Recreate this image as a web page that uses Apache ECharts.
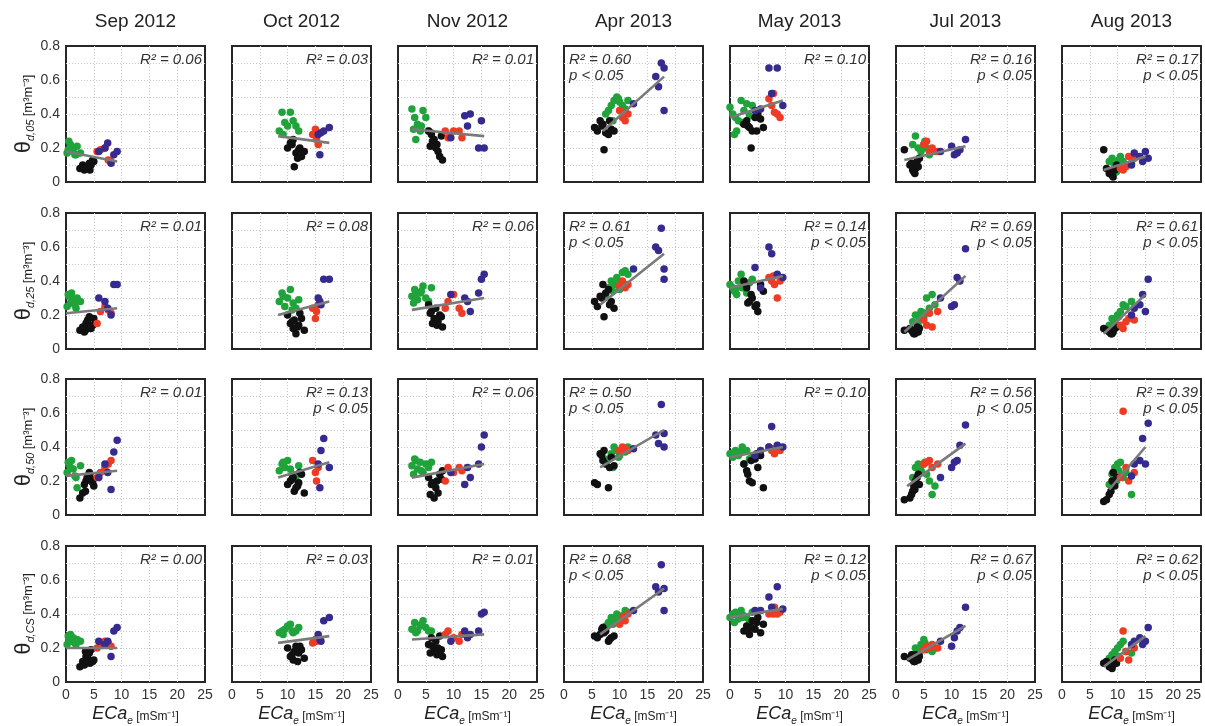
<!DOCTYPE html>
<html><head><meta charset="utf-8">
<script src="https://cdn.jsdelivr.net/npm/echarts@6/dist/echarts.min.js"></script>
<style>html,body{margin:0;padding:0;background:#fff}#c{width:1205px;height:726px}</style>
</head><body><div id="c"></div>
<script>
// ---------- DATA ----------
const months = ['Sep 2012','Oct 2012','Nov 2012','Apr 2013','May 2013','Jul 2013','Aug 2013'];
const depths = ['05','25','50','CS'];
const xTicks = [0,5,10,15,20,25];
const yTicks = [0,0.2,0.4,0.6,0.8];
const groupColors = ['#1fa33a','#111111','#ee3b24','#352a8e']; // green, black, red, blue

// ECa_e per month: [green, black, red, blue]
const sepX = [[0.2,0.5,0.8,1.0,1.3,1.6,2.0,2.6,0.4,1.8],[2.5,3.0,3.3,3.6,3.9,4.2,4.5,4.8,5.0,3.8,4.3,3.5],[5.6,6.2,7.0,7.6,8.1],[5.9,7.0,7.5,8.1,8.6,9.2]];
const octX = [[8.5,9.0,9.5,10.0,10.5,11.0,11.5,12.0,9.2,10.8],[10.0,10.5,11.0,11.2,11.5,12.0,12.5,13.0,10.8,11.8,12.2],[14.5,15.0,15.2,15.5],[15.5,16.0,16.5,17.5,15.8]];
const novX = [[2.5,3.0,3.5,4.0,4.5,5.0,5.5,3.2,4.2,2.8,6.0],[5.5,6.0,6.5,7.0,7.2,7.5,8.0,6.8,6.2,7.8,5.8],[8.5,9.0,10.0,11.0,11.5],[9.5,12.0,13.0,15.0,15.5,12.5,14.5]];
const aprX = [[7.5,8.0,8.5,9.0,9.5,10.0,10.5,11.0,8.8,9.8,11.5],[5.5,6.0,6.5,7.0,7.5,8.0,8.5,7.2,8.2,6.8,9.0],[10.0,10.5,11.0,11.5],[12.5,16.5,17.0,17.5,18.0,18.0]];
const mayX = [[0.0,0.5,1.0,1.5,2.0,2.5,3.0,3.5,1.2,0.8,2.2,4.0],[2.5,3.0,3.5,4.0,4.5,5.0,5.5,6.0,3.8,4.8,3.2],[7.0,7.5,8.0,8.5,9.0,7.8],[4.5,5.5,7.0,7.5,8.5,9.5]];
const julX = [[3.0,3.5,4.0,4.5,5.0,5.5,6.0,6.5,4.2,5.2,7.0],[1.5,2.5,3.0,3.2,3.5,3.8,4.0,4.2,3.4,2.8],[5.0,5.5,6.0,6.5,7.5],[8.0,10.0,10.5,11.0,11.5,12.5]];
const augX = [[8.5,9.0,9.5,10.0,10.5,11.0,11.5,9.8,10.2,12.5],[7.5,8.0,8.5,9.0,9.2,9.5,9.8,8.8],[10.5,11.0,11.5,12.0,13.0],[12.5,13.0,14.0,14.5,15.0,15.5]];

// theta per month and depth: [green, black, red, blue]
const sepY05 = [[0.17,0.24,0.22,0.20,0.18,0.16,0.21,0.17,0.19,0.16],[0.08,0.10,0.07,0.09,0.08,0.11,0.10,0.13,0.12,0.09,0.07,0.08],[0.18,0.19,0.20,0.13,0.12],[0.18,0.20,0.23,0.11,0.16,0.18]];
const sepY25 = [[0.25,0.31,0.27,0.33,0.29,0.26,0.30,0.28,0.32,0.24],[0.11,0.13,0.10,0.15,0.17,0.19,0.12,0.14,0.18,0.16,0.13,0.11],[0.15,0.22,0.25,0.23,0.21],[0.30,0.28,0.24,0.20,0.38,0.38]];
const sepY50 = [[0.25,0.30,0.28,0.32,0.27,0.23,0.16,0.29,0.31,0.22],[0.10,0.13,0.18,0.20,0.23,0.25,0.21,0.19,0.17,0.22,0.24,0.14],[0.22,0.25,0.28,0.30,0.32],[0.22,0.30,0.25,0.15,0.37,0.44]];
const sepYCS = [[0.22,0.25,0.28,0.24,0.26,0.23,0.25,0.24,0.27,0.22],[0.09,0.12,0.10,0.15,0.14,0.17,0.19,0.12,0.13,0.16,0.11,0.18],[0.20,0.22,0.24,0.23,0.21],[0.24,0.22,0.24,0.15,0.30,0.32]];

const octY05 = [[0.30,0.41,0.35,0.33,0.41,0.36,0.33,0.30,0.28,0.24],[0.20,0.23,0.25,0.09,0.17,0.19,0.15,0.18,0.22,0.14,0.20],[0.28,0.31,0.25,0.22],[0.28,0.29,0.30,0.32,0.16]];
const octY25 = [[0.28,0.33,0.25,0.30,0.35,0.27,0.24,0.29,0.31,0.23],[0.20,0.15,0.12,0.17,0.09,0.14,0.18,0.11,0.16,0.13,0.21],[0.24,0.18,0.22,0.26],[0.30,0.26,0.41,0.41,0.28]];
const octY50 = [[0.26,0.30,0.28,0.32,0.27,0.23,0.21,0.29,0.31,0.24],[0.18,0.20,0.22,0.14,0.16,0.19,0.24,0.13,0.21,0.17,0.25],[0.32,0.25,0.20,0.28],[0.30,0.38,0.45,0.28,0.16]];
const octYCS = [[0.29,0.30,0.31,0.33,0.34,0.29,0.30,0.32,0.28,0.30],[0.20,0.15,0.13,0.18,0.21,0.17,0.19,0.14,0.16,0.12,0.21],[0.23,0.25,0.24,0.26],[0.28,0.24,0.36,0.38,0.25]];

const novY05 = [[0.43,0.38,0.34,0.30,0.42,0.38,0.30,0.25,0.33,0.31,0.29],[0.30,0.28,0.25,0.22,0.18,0.15,0.13,0.20,0.24,0.27,0.21],[0.30,0.26,0.30,0.30,0.26],[0.26,0.39,0.40,0.36,0.20,0.33,0.20]];
const novY25 = [[0.31,0.35,0.29,0.33,0.37,0.30,0.28,0.32,0.34,0.27,0.36],[0.26,0.22,0.18,0.14,0.16,0.20,0.13,0.24,0.15,0.19,0.21],[0.24,0.28,0.32,0.24,0.21],[0.32,0.30,0.22,0.41,0.44,0.28,0.33]];
const novY50 = [[0.29,0.33,0.27,0.31,0.25,0.30,0.28,0.32,0.26,0.24,0.31],[0.22,0.18,0.10,0.20,0.13,0.24,0.26,0.16,0.19,0.21,0.12],[0.20,0.28,0.25,0.28,0.26],[0.25,0.18,0.22,0.40,0.47,0.28,0.30]];
const novYCS = [[0.31,0.35,0.30,0.33,0.36,0.32,0.30,0.29,0.34,0.31,0.30],[0.22,0.26,0.18,0.16,0.20,0.27,0.15,0.24,0.21,0.19,0.17],[0.28,0.30,0.26,0.24,0.28],[0.24,0.30,0.28,0.40,0.41,0.26,0.30]];

const aprY05 = [[0.40,0.42,0.45,0.48,0.50,0.47,0.45,0.43,0.36,0.49,0.48],[0.32,0.30,0.36,0.34,0.29,0.28,0.31,0.19,0.36,0.33,0.30],[0.42,0.38,0.36,0.40],[0.46,0.62,0.56,0.70,0.67,0.42]];
const aprY25 = [[0.32,0.36,0.40,0.38,0.42,0.35,0.45,0.46,0.34,0.38,0.44],[0.28,0.25,0.31,0.38,0.33,0.35,0.28,0.19,0.26,0.30,0.24],[0.37,0.40,0.36,0.38],[0.47,0.60,0.58,0.71,0.47,0.41]];
const aprY50 = [[0.30,0.33,0.36,0.40,0.38,0.35,0.39,0.37,0.28,0.34,0.40],[0.19,0.18,0.36,0.32,0.30,0.16,0.34,0.38,0.28,0.35,0.29],[0.38,0.40,0.39,0.38],[0.39,0.47,0.42,0.65,0.48,0.40]];
const aprYCS = [[0.33,0.35,0.38,0.36,0.40,0.37,0.39,0.42,0.34,0.38,0.41],[0.27,0.26,0.28,0.32,0.30,0.24,0.26,0.29,0.25,0.31,0.27],[0.34,0.38,0.36,0.40],[0.42,0.56,0.53,0.69,0.55,0.42]];

const mayY05 = [[0.44,0.40,0.38,0.36,0.48,0.42,0.46,0.39,0.30,0.28,0.35,0.45],[0.34,0.36,0.32,0.30,0.38,0.40,0.37,0.32,0.20,0.30,0.33],[0.49,0.45,0.41,0.40,0.38,0.52],[0.42,0.43,0.67,0.52,0.67,0.45]];
const mayY25 = [[0.38,0.36,0.35,0.40,0.44,0.37,0.33,0.39,0.32,0.34,0.36,0.41],[0.40,0.36,0.28,0.30,0.25,0.22,0.38,0.34,0.32,0.26,0.27],[0.42,0.40,0.38,0.30,0.40,0.43],[0.48,0.36,0.60,0.56,0.44,0.42]];
const mayY50 = [[0.36,0.34,0.38,0.35,0.37,0.30,0.38,0.33,0.36,0.37,0.40,0.34],[0.30,0.26,0.20,0.19,0.33,0.28,0.35,0.16,0.32,0.36,0.24],[0.40,0.38,0.36,0.40,0.38,0.39],[0.35,0.38,0.40,0.52,0.41,0.40]];
const mayYCS = [[0.38,0.40,0.41,0.37,0.42,0.39,0.38,0.36,0.40,0.35,0.38,0.41],[0.30,0.33,0.28,0.36,0.31,0.38,0.29,0.34,0.32,0.35,0.30],[0.40,0.41,0.44,0.40,0.41,0.40],[0.42,0.42,0.50,0.44,0.56,0.43]];

const julY05 = [[0.22,0.27,0.20,0.18,0.22,0.20,0.16,0.19,0.14,0.24,0.18],[0.19,0.10,0.07,0.06,0.08,0.12,0.09,0.14,0.05,0.11],[0.22,0.24,0.18,0.20,0.18],[0.18,0.21,0.16,0.17,0.19,0.25]];
const julY25 = [[0.16,0.20,0.14,0.22,0.19,0.30,0.24,0.32,0.18,0.21,0.26],[0.11,0.12,0.10,0.09,0.11,0.13,0.10,0.12,0.09,0.11],[0.17,0.14,0.21,0.13,0.22],[0.30,0.25,0.26,0.42,0.40,0.59]];
const julY50 = [[0.22,0.28,0.30,0.26,0.30,0.24,0.20,0.12,0.28,0.31,0.17],[0.09,0.10,0.14,0.17,0.20,0.22,0.24,0.18,0.15,0.12],[0.30,0.31,0.32,0.28,0.30],[0.22,0.28,0.31,0.32,0.41,0.53]];
const julYCS = [[0.16,0.20,0.18,0.22,0.25,0.19,0.21,0.18,0.17,0.23,0.20],[0.15,0.14,0.13,0.12,0.16,0.14,0.13,0.15,0.12,0.16],[0.19,0.21,0.20,0.22,0.20],[0.24,0.21,0.26,0.30,0.32,0.44]];

const augY05 = [[0.12,0.14,0.10,0.08,0.15,0.12,0.10,0.06,0.13,0.11],[0.19,0.08,0.05,0.04,0.03,0.07,0.10,0.06],[0.08,0.07,0.09,0.15,0.14],[0.10,0.17,0.15,0.12,0.18,0.14]];
const augY25 = [[0.14,0.18,0.16,0.20,0.22,0.26,0.25,0.13,0.19,0.28],[0.12,0.11,0.10,0.09,0.10,0.12,0.13,0.09],[0.14,0.12,0.16,0.18,0.17],[0.20,0.24,0.26,0.32,0.22,0.41]];
const augY50 = [[0.18,0.24,0.28,0.30,0.31,0.22,0.25,0.20,0.26,0.12],[0.08,0.09,0.12,0.20,0.25,0.17,0.22,0.14],[0.22,0.61,0.28,0.20,0.25],[0.23,0.30,0.32,0.45,0.30,0.54]];
const augYCS = [[0.14,0.16,0.18,0.20,0.22,0.24,0.18,0.13,0.15,0.17],[0.11,0.12,0.09,0.08,0.10,0.13,0.11,0.09],[0.14,0.30,0.18,0.13,0.20],[0.22,0.24,0.26,0.22,0.24,0.32]];

// regression lines per depth row, one per month: [x0, y0, x1, y1]
const fit05 = [[0,0.18,9.2,0.12],[8.3,0.27,17.5,0.23],[2.5,0.31,15.5,0.27],[7,0.30,18,0.62],[0,0.38,9.5,0.48],[1.5,0.13,12.5,0.21],[7.5,0.07,15,0.15]];
const fit25 = [[0,0.21,9.2,0.24],[8.3,0.20,17.5,0.28],[2.5,0.23,15.5,0.30],[6.5,0.26,18,0.56],[0,0.36,9.5,0.43],[1.5,0.10,12.5,0.43],[7.5,0.09,15,0.32]];
const fit50 = [[0,0.23,9.2,0.26],[8.3,0.22,17.5,0.31],[2.5,0.22,15.5,0.30],[6.5,0.28,18,0.50],[0,0.34,9.5,0.40],[2,0.17,12.5,0.42],[8.5,0.15,15,0.40]];
const fitCS = [[0,0.20,9.2,0.20],[8.3,0.23,17.5,0.27],[2.5,0.25,15.5,0.28],[6.5,0.28,18,0.55],[0,0.38,9.5,0.43],[2,0.13,12.5,0.33],[7.5,0.09,15,0.27]];

// R² per depth row, one per month; significant flags
const r2_05 = ['0.06','0.03','0.01','0.60','0.10','0.16','0.17'];
const r2_25 = ['0.01','0.08','0.06','0.61','0.14','0.69','0.61'];
const r2_50 = ['0.01','0.13','0.06','0.50','0.10','0.56','0.39'];
const r2_CS = ['0.00','0.03','0.01','0.68','0.12','0.67','0.62'];
const sig05 = [0,0,0,1,0,1,1];
const sig25 = [0,0,0,1,1,1,1];
const sig50 = [0,1,0,1,0,1,1];
const sigCS = [0,0,0,1,1,1,1];

// ---------- BUILD ----------
const monthX = [sepX, octX, novX, aprX, mayX, julX, augX];
const monthY = [
  [sepY05, sepY25, sepY50, sepYCS],
  [octY05, octY25, octY50, octYCS],
  [novY05, novY25, novY50, novYCS],
  [aprY05, aprY25, aprY50, aprYCS],
  [mayY05, mayY25, mayY50, mayYCS],
  [julY05, julY25, julY50, julYCS],
  [augY05, augY25, augY50, augYCS]
];
const fits = [fit05, fit25, fit50, fitCS];
const r2s = [r2_05, r2_25, r2_50, r2_CS];
const sigs = [sig05, sig25, sig50, sigCS];

const FONT = '"Liberation Sans", Arial, sans-serif';
const L0 = 66, T0 = 46, DX = 166, DY = 166.7, W = 139, H = 136;

const grids = [], xAxes = [], yAxes = [], series = [], graphics = [];
const gridStyle = {color:'#c4c4c4', type:[1,2], width:1};

months.forEach((m, c) => {
  graphics.push({type:'text', x: L0 + c*DX + W/2, y: 22, style:{text:m, align:'center', verticalAlign:'middle', font:'19px ' + FONT, fill:'#222'}});
});

for (let r = 0; r < 4; r++) {
  for (let c = 0; c < 7; c++) {
    const gi = r*7 + c;
    const left = L0 + c*DX, top = Math.round(T0 + r*DY);
    grids.push({left, top, width:W, height:H, show:true, borderColor:'#262626', borderWidth:2, backgroundColor:'transparent', containLabel:false, outerBoundsMode:'none'});
    xAxes.push({
      gridIndex:gi, type:'value', min:xTicks[0], max:xTicks[xTicks.length-1], interval:5,
      axisLine:{show:false}, axisTick:{show:false},
      splitLine:{show:true, showMinLine:false, showMaxLine:false, lineStyle:gridStyle},
      axisLabel:{show:r===3, fontSize:14, color:'#333', fontFamily:FONT, margin:6, alignMaxLabel: c===6 ? 'right' : null},
      name: r===3 ? '{e|ECa}{s|e} {u|[mSm⁻¹]}' : '',
      nameLocation:'middle', nameGap:21,
      nameTextStyle:{rich:{
        e:{fontSize:18, fontStyle:'italic', fontFamily:FONT, color:'#222', lineHeight:20, verticalAlign:'bottom'},
        s:{fontSize:10, fontStyle:'italic', fontFamily:FONT, color:'#222', lineHeight:20, verticalAlign:'bottom', padding:[0,0,-3,0]},
        u:{fontSize:12, fontFamily:FONT, color:'#222', lineHeight:20, verticalAlign:'bottom'}
      }}
    });
    yAxes.push({
      gridIndex:gi, type:'value', min:0, max:0.8, interval:0.1,
      axisLine:{show:false}, axisTick:{show:false},
      splitLine:{show:true, showMinLine:false, showMaxLine:false, lineStyle:gridStyle},
      axisLabel:{show:c===0, fontSize:14, color:'#333', fontFamily:FONT, margin:6,
        formatter: v => { const k = Math.round(v*10); if (k % 2) return ''; return yTicks.includes(k/10) ? (k===0 ? '0' : (k/10).toFixed(1)) : ''; }},
      name: c===0 ? '{t|θ}{s|d,' + depths[r] + '} {u|[m³m⁻³]}' : '',
      nameLocation:'middle', nameRotate:90, nameGap:31,
      nameTextStyle:{rich:{
        t:{fontSize:22, fontFamily:FONT, color:'#222', lineHeight:26, verticalAlign:'bottom'},
        s:{fontSize:11, fontStyle:'italic', fontFamily:FONT, color:'#222', lineHeight:26, verticalAlign:'bottom', padding:[0,0,-2,0]},
        u:{fontSize:13, fontFamily:FONT, color:'#222', lineHeight:26, verticalAlign:'bottom'}
      }}
    });
    const xs = monthX[c], ys = monthY[c][r];
    for (let g = 0; g < 4; g++) {
      series.push({
        type:'scatter', xAxisIndex:gi, yAxisIndex:gi, symbolSize:7.5, z:2,
        itemStyle:{color:groupColors[g], opacity:1},
        data: xs[g].map((x, i) => [x, ys[g][i]])
      });
    }
    const f = fits[r][c];
    series.push({
      type:'line', xAxisIndex:gi, yAxisIndex:gi, showSymbol:false, symbol:'none', z:3,
      lineStyle:{color:'#7a7a7a', width:2.6},
      data:[[f[0], f[1]], [f[2], f[3]]]
    });
    // annotations
    const leftAlign = (c === 3);
    const ax = leftAlign ? left + 5 : left + W - 3;
    graphics.push({type:'text', x:ax, y: top + 14, z:10, style:{text:'R² = ' + r2s[r][c], align: leftAlign ? 'left' : 'right', verticalAlign:'middle', font:'italic 15px ' + FONT, fill:'#333'}});
    if (sigs[r][c]) {
      graphics.push({type:'text', x:ax, y: top + 30, z:10, style:{text:'p < 0.05', align: leftAlign ? 'left' : 'right', verticalAlign:'middle', font:'italic 15px ' + FONT, fill:'#333'}});
    }
  }
}

const chart = echarts.init(document.getElementById('c'), null, {renderer:'canvas'});
chart.setOption({
  animation:false,
  backgroundColor:'#fff',
  grid:grids, xAxis:xAxes, yAxis:yAxes, series, graphic:graphics
});
</script>
</body></html>
